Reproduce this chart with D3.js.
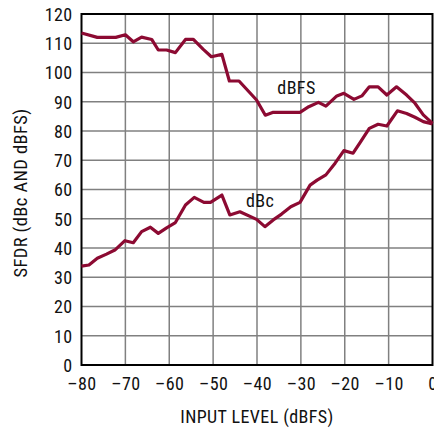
<!DOCTYPE html>
<html><head><meta charset="utf-8">
<script src="https://cdn.jsdelivr.net/npm/d3@7/dist/d3.min.js"></script>
<style>body{margin:0;background:#fff;} svg{display:block;} text{font-family:"Roboto Condensed","Liberation Sans",Arial,sans-serif;fill:#111;letter-spacing:0.4px;}</style>
</head><body>
<svg id="c" width="434" height="434"></svg>
<script>
const xTicks = [-80,-70,-60,-50,-40,-30,-20,-10,0];
const yTicks = [0,10,20,30,40,50,60,70,80,90,100,110,120];
const dbfsX = [-80,-76.4,-72.2,-70,-68.2,-66.3,-64,-62.5,-60.6,-58.6,-56.3,-54.5,-52.3,-50.4,-48,-46.3,-44.1,-40.1,-38.1,-36.3,-30.2,-28.2,-26,-24.3,-21.8,-20.2,-17.9,-16.1,-14.4,-12.4,-10.4,-8.2,-5.9,-4,-2.1,0];
const dbfsY = [113.5,112,112,112.9,110.5,112.1,111.3,107.7,107.7,106.8,111.3,111.3,108,105.4,106.2,97.1,97.1,90.6,85.4,86.4,86.4,88.3,89.8,88.5,92,92.9,90.8,92,95.1,95.1,92.3,95.1,92.3,89.5,85.5,82.6];
const dbcX = [-80,-78.3,-76.4,-74.3,-72.4,-70.1,-68.2,-66.3,-64.3,-62.5,-60.6,-58.6,-56.3,-54.3,-52.1,-50.6,-48,-46.2,-43.9,-40.1,-38.2,-36.3,-34.4,-32.3,-30.2,-27.9,-26.3,-24.3,-22.2,-20.2,-18.1,-16.4,-14.4,-12.4,-10.4,-8,-5.9,-4,-2.1,0];
const dbcY = [33.8,34.2,36.5,37.9,39.3,42.5,41.8,45.6,47.1,45,46.9,48.7,54.7,57.3,55.6,55.6,58.1,51.3,52.4,49.8,47.3,49.6,51.6,54.1,55.6,61.5,63.2,65,69,73.3,72.4,76.3,80.9,82.3,81.7,86.9,86,84.7,83.2,82.4];
const labels = [{t:"dBFS",x:-31,y:92.5},{t:"dBc",x:-39.3,y:54}];

const svg = d3.select("#c");
const L=81.5, R=432.5, T=14, B=365;
const FS = "18px";
const x = d3.scaleLinear().domain([-80,0]).range([L,R]);
const y = d3.scaleLinear().domain([0,120]).range([B,T]);
const g = svg.append("g");
g.selectAll(".gx").data(xTicks.slice(1,-1)).enter().append("line")
 .attr("x1",d=>x(d)).attr("x2",d=>x(d)).attr("y1",T).attr("y2",B)
 .attr("stroke","#808080").attr("stroke-width",1.5);
g.selectAll(".gy").data(yTicks.slice(1,-1)).enter().append("line")
 .attr("y1",d=>y(d)).attr("y2",d=>y(d)).attr("x1",L).attr("x2",R)
 .attr("stroke","#808080").attr("stroke-width",1.5);
g.append("rect").attr("x",L).attr("y",T).attr("width",R-L).attr("height",B-T)
 .attr("fill","none").attr("stroke","#000").attr("stroke-width",2);
const fmt = d => d<0 ? "\u2013"+Math.abs(d) : String(d);
const xAxis = d3.axisBottom(x).tickValues(xTicks).tickFormat(fmt).tickSize(0).tickPadding(0);
const ax = svg.append("g").attr("transform",`translate(0,${B})`).call(xAxis);
ax.select(".domain").remove();
ax.selectAll("text").attr("dy",null).attr("y",25).style("font-size",FS).style("fill","#111");
const yAxis = d3.axisLeft(y).tickValues(yTicks).tickFormat(fmt).tickSize(0).tickPadding(0);
const ay = svg.append("g").attr("transform",`translate(${L-9},0)`).call(yAxis);
ay.select(".domain").remove();
ay.selectAll("text").attr("dy","0.36em").attr("x",0).style("font-size",FS).style("fill","#111");
svg.selectAll("g").attr("font-family",null).attr("font-size",null);
const line = d3.line().x(d=>x(d[0])).y(d=>y(d[1]));
const col = "#8c0a32";
[[dbfsX,dbfsY],[dbcX,dbcY]].forEach(([xs,ys])=>{
  svg.append("path").datum(xs.map((v,i)=>[v,ys[i]])).attr("d",line)
   .attr("fill","none").attr("stroke",col).attr("stroke-width",3.2).attr("stroke-linejoin","round");
});
svg.selectAll(".lbl").data(labels).enter().append("text")
 .attr("x",d=>x(d.x)).attr("y",d=>y(d.y)).attr("text-anchor","middle")
 .style("font-size",FS).text(d=>d.t);
svg.append("text").attr("x",257).attr("y",423).attr("text-anchor","middle").style("font-size",FS).text("INPUT LEVEL (dBFS)");
svg.append("text").attr("transform","translate(27,193) rotate(-90)").attr("text-anchor","middle").style("font-size","18.5px").text("SFDR (dBc AND dBFS)");
</script>
</body></html>
